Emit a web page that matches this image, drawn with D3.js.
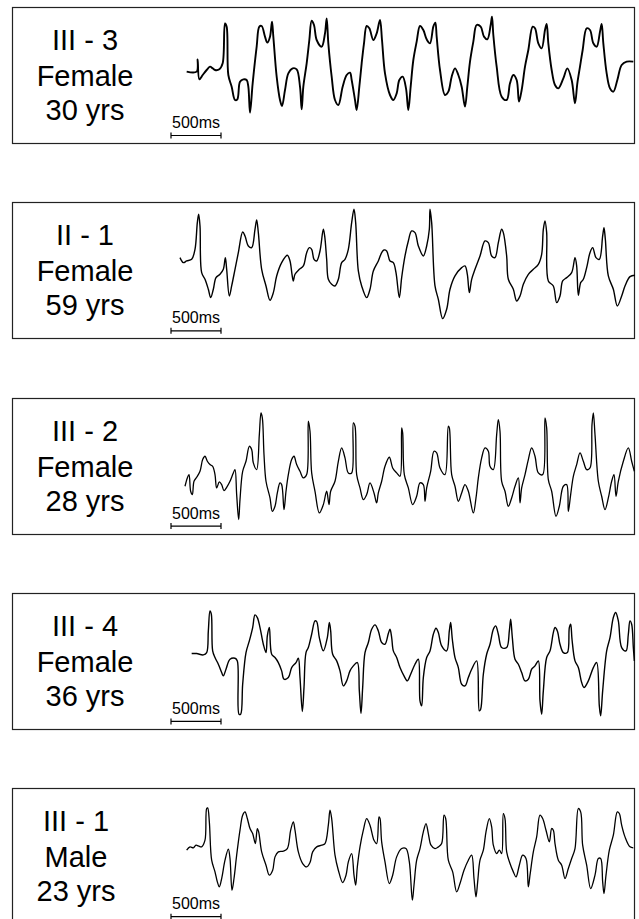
<!DOCTYPE html>
<html>
<head>
<meta charset="utf-8">
<script src="https://cdn.jsdelivr.net/npm/d3@7"></script>
<style>
  body { margin: 0; background: #fff; }
  text { font-family: "Liberation Sans", Arial, sans-serif; fill: #000; }
</style>
</head>
<body>
<div id="chart"></div>
<script>
// subject labels
const subjects = ["III - 3", "II - 1", "III - 2", "III - 4", "III - 1"];
const sexes = ["Female", "Female", "Female", "Female", "Male"];
const ages = ["30 yrs", "59 yrs", "28 yrs", "36 yrs", "23 yrs"];

// recordings: [sample index @ 300 Hz, amplitude (10 uV units)]
const sampleRate = 300;
const scaleBarMs = 500;
const scaleBarLabel = "500ms";

const ecgIII3 = [[80,1],[110,1],[113,38],[118,-22],[128,-9],[140,6],[150,16],[158,11],[165,6],[178,8],[188,26],[195,146],[200,136],[205,-9],[215,-44],[225,-84],[232,-82],[240,-29],[250,-22],[260,-24],[265,-44],[270,-122],[278,-34],[290,76],[298,136],[305,138],[315,106],[322,88],[330,106],[336,151],[340,106],[350,-14],[360,-84],[366,-102],[375,-54],[385,-4],[398,11],[410,8],[420,-44],[425,-112],[430,-44],[440,26],[448,96],[455,154],[462,141],[470,96],[485,76],[495,116],[500,161],[505,86],[515,-14],[525,-84],[535,-99],[548,-44],[560,-9],[570,-2],[575,-24],[585,-84],[590,-114],[598,-44],[605,26],[612,86],[620,138],[628,131],[640,96],[650,116],[660,156],[666,96],[675,-4],[690,-69],[700,-84],[710,-64],[718,-24],[728,-14],[738,-49],[745,-114],[752,-44],[760,36],[770,91],[780,138],[790,126],[800,98],[810,86],[820,136],[826,148],[830,106],[840,6],[855,-69],[865,-59],[875,-14],[885,11],[895,-9],[905,-44],[915,-104],[922,-44],[930,31],[940,91],[950,141],[962,136],[972,106],[982,98],[992,141],[996,166],[1000,111],[1010,16],[1025,-74],[1040,-84],[1050,-34],[1060,-9],[1070,-24],[1077,-89],[1085,-54],[1095,16],[1105,66],[1118,136],[1125,131],[1135,86],[1145,71],[1155,126],[1160,144],[1165,86],[1175,6],[1185,-39],[1195,-49],[1210,-19],[1222,11],[1235,-24],[1245,-94],[1252,-34],[1260,16],[1268,66],[1280,131],[1290,126],[1300,86],[1310,76],[1320,121],[1325,144],[1330,86],[1340,-4],[1350,-49],[1360,-59],[1372,-24],[1385,21],[1400,31],[1420,31]];

const ecgII1 = [[60,29],[70,14],[80,19],[95,24],[105,54],[112,134],[116,159],[120,124],[125,-16],[135,-36],[145,-66],[152,-91],[160,-66],[168,-31],[180,-21],[190,-6],[196,29],[200,-6],[208,-86],[215,-56],[225,-6],[235,44],[248,106],[255,94],[265,64],[275,59],[285,114],[290,142],[295,104],[305,-6],[318,-56],[330,-99],[340,-76],[350,-26],[365,14],[382,36],[390,19],[396,-21],[400,-41],[405,-21],[418,-6],[430,4],[440,44],[448,59],[455,54],[462,24],[470,19],[480,49],[490,114],[494,94],[500,24],[505,-36],[515,-51],[525,-56],[535,-36],[545,14],[555,24],[565,54],[575,134],[582,174],[587,134],[595,-11],[605,-56],[620,-91],[630,-66],[640,-11],[655,19],[665,44],[672,52],[680,49],[690,19],[700,14],[708,-16],[718,-91],[725,-31],[735,34],[745,79],[755,109],[765,104],[775,64],[790,34],[800,64],[808,114],[810,174],[815,134],[825,-56],[835,-96],[848,-154],[860,-126],[870,-66],[885,-26],[905,-1],[915,4],[922,-21],[928,-76],[935,-36],[945,-6],[960,34],[975,79],[985,74],[995,34],[1005,29],[1015,74],[1025,114],[1030,104],[1040,34],[1045,-36],[1060,-66],[1070,-101],[1080,-86],[1090,-51],[1105,-21],[1120,-6],[1135,9],[1145,39],[1150,114],[1155,139],[1160,104],[1165,-41],[1180,-56],[1190,-106],[1200,-86],[1208,-41],[1220,-31],[1235,-16],[1245,29],[1250,4],[1255,-84],[1262,-46],[1270,-36],[1280,-1],[1290,44],[1298,59],[1308,29],[1318,24],[1328,94],[1332,119],[1336,84],[1345,-26],[1360,-66],[1372,-116],[1385,-86],[1395,-56],[1410,-28],[1425,-24]];

const ecgIII2 = [[75,-71],[82,-46],[87,-36],[92,-86],[97,-96],[102,-56],[110,-44],[120,-26],[128,9],[135,19],[142,4],[150,-6],[158,-11],[165,-36],[170,-76],[178,-58],[185,-66],[192,-84],[200,-74],[210,-56],[220,-31],[225,-21],[230,-96],[236,-171],[240,-111],[248,-26],[258,4],[268,49],[275,39],[280,-1],[290,-21],[298,84],[303,149],[307,134],[312,24],[318,-56],[330,-106],[337,-146],[345,-131],[352,-91],[360,-61],[365,-66],[372,-141],[378,-86],[385,-36],[395,9],[402,19],[410,-6],[420,-26],[430,-46],[440,-36],[445,124],[450,94],[455,-31],[465,-86],[478,-151],[490,-126],[500,-86],[507,-126],[512,-86],[525,-56],[535,4],[545,44],[555,14],[565,-31],[575,-31],[580,119],[585,109],[590,-36],[600,-76],[610,-111],[620,-96],[630,-61],[642,-91],[650,-121],[655,-91],[665,-56],[675,-11],[688,16],[698,-16],[710,-31],[720,-41],[725,104],[728,89],[733,-36],[745,-76],[758,-126],[770,-101],[780,-61],[790,-66],[795,-116],[800,-76],[812,-26],[822,34],[830,29],[840,-16],[855,-36],[865,109],[868,104],[875,-36],[885,-71],[895,-116],[905,-91],[915,-66],[925,-86],[940,-151],[948,-106],[955,-46],[965,14],[975,44],[985,34],[990,-11],[1000,-21],[1010,84],[1015,129],[1020,94],[1025,-56],[1035,-86],[1045,-131],[1055,-106],[1065,-71],[1075,-46],[1080,-121],[1085,-76],[1095,-36],[1105,9],[1115,44],[1125,19],[1135,-31],[1148,-36],[1155,134],[1160,104],[1165,-51],[1175,-86],[1188,-161],[1198,-131],[1210,-71],[1220,-66],[1225,-146],[1232,-96],[1240,-41],[1250,-6],[1260,29],[1270,4],[1280,-21],[1290,-16],[1296,114],[1300,149],[1305,84],[1315,-56],[1325,-101],[1335,-141],[1345,-106],[1355,-56],[1362,-36],[1368,-101],[1375,-56],[1390,4],[1405,44],[1415,4],[1423,-26]];

const ecgIII4 = [[95,13],[110,13],[130,9],[140,16],[145,81],[150,141],[154,131],[158,21],[165,1],[175,-19],[185,-44],[190,-54],[198,-34],[210,-4],[225,-1],[232,-9],[237,-169],[242,-169],[248,-79],[258,16],[268,51],[278,91],[285,129],[292,121],[300,91],[310,41],[318,16],[322,66],[328,91],[335,11],[345,1],[355,-14],[365,-39],[372,-64],[385,-59],[395,-29],[408,-14],[415,-1],[420,-59],[427,-161],[432,-89],[438,16],[445,31],[455,71],[465,111],[470,109],[478,61],[490,21],[502,61],[508,106],[512,81],[518,11],[530,-9],[540,-39],[550,-84],[560,-69],[570,-39],[580,-24],[592,-14],[598,-99],[603,-167],[608,-89],[615,16],[625,46],[635,86],[645,99],[655,81],[665,46],[675,41],[685,73],[690,86],[695,61],[700,21],[710,1],[720,-29],[732,-54],[742,-69],[752,-49],[765,-19],[775,-4],[780,-129],[785,-144],[790,-59],[800,1],[810,21],[820,71],[828,89],[835,76],[845,36],[860,21],[868,81],[872,106],[877,56],[885,1],[895,-29],[905,-79],[915,-84],[925,-59],[935,-34],[950,-9],[958,-159],[962,-154],[970,-49],[980,11],[990,41],[1000,86],[1007,96],[1015,71],[1025,31],[1040,31],[1048,81],[1052,116],[1057,61],[1065,-4],[1075,-19],[1085,-44],[1095,-69],[1105,-64],[1115,-34],[1125,-24],[1135,-9],[1140,-129],[1145,-169],[1150,-99],[1160,1],[1170,21],[1180,76],[1185,91],[1192,81],[1200,41],[1210,16],[1222,16],[1228,91],[1232,101],[1236,56],[1245,-9],[1255,-29],[1265,-74],[1272,-89],[1285,-69],[1300,-29],[1310,-14],[1318,-144],[1322,-174],[1328,-99],[1340,21],[1350,61],[1360,121],[1367,136],[1375,111],[1385,31],[1398,21],[1405,71],[1410,111],[1415,101],[1420,31],[1423,-9]];

const ecgIII1 = [[80,9],[90,19],[100,16],[108,24],[115,22],[125,19],[135,39],[140,134],[143,136],[148,94],[155,-21],[165,-56],[172,-86],[178,-101],[185,-76],[195,-21],[205,12],[210,-16],[216,-111],[222,-76],[230,-6],[240,69],[248,114],[255,124],[262,104],[270,74],[278,59],[286,29],[292,74],[296,64],[305,4],[318,-36],[328,-66],[338,-51],[345,-11],[355,4],[370,6],[382,14],[392,69],[400,94],[405,69],[415,4],[428,-31],[440,-41],[450,-28],[458,4],[470,19],[485,24],[495,29],[505,84],[510,129],[515,104],[525,-6],[535,-51],[548,-88],[558,-66],[565,-26],[575,-1],[582,-66],[587,-96],[592,-41],[600,19],[610,69],[620,104],[630,84],[642,39],[650,29],[657,109],[660,104],[665,34],[675,-26],[688,-91],[698,-66],[710,-11],[725,14],[738,14],[748,-26],[757,-141],[762,-96],[770,-21],[780,14],[790,64],[798,89],[805,59],[813,24],[825,14],[835,19],[845,29],[852,114],[857,104],[865,-21],[878,-56],[890,-116],[900,-91],[912,-51],[925,-21],[935,-6],[942,-76],[948,-131],[953,-86],[960,-21],[970,9],[978,64],[988,104],[995,79],[1000,24],[1010,-1],[1018,9],[1025,-1],[1030,119],[1035,104],[1040,4],[1050,-31],[1060,-56],[1068,-71],[1078,-36],[1088,-6],[1098,-16],[1105,-101],[1110,-66],[1120,4],[1130,49],[1140,114],[1148,104],[1158,69],[1168,34],[1175,74],[1180,69],[1185,29],[1195,-21],[1205,-36],[1215,-76],[1225,-46],[1235,-16],[1245,14],[1255,134],[1262,124],[1268,24],[1280,-36],[1292,-106],[1305,-66],[1315,-16],[1322,-16],[1328,-86],[1332,-121],[1338,-66],[1348,9],[1360,54],[1372,124],[1378,119],[1385,84],[1395,49],[1410,19],[1420,16]];

const recordings = [ecgIII3, ecgII1, ecgIII2, ecgIII4, ecgIII1];

// ---- layout ----
const width = 639, height = 919;
const boxLeft = 12, boxRight = 634, boxHeight = 136;
const panelStep = 195.3, firstTop = 7;
const labelX = [85, 85, 85, 85, 76];
const traceWidth = [1.9, 1.4, 1.3, 1.4, 1.3];

const svg = d3.select('#chart').append('svg')
    .attr('width', width)
    .attr('height', height);

// time axis shared by all strips: ms -> px (500 ms = 50 px)
const x = d3.scaleLinear()
    .domain([0, 1437 * 1000 / sampleRate])
    .range([160, 639]);

const line = d3.line()
    .curve(d3.curveCatmullRom.alpha(0.5));

recordings.forEach((rec, i) => {
    const top = firstTop + i * panelStep;
    const g = svg.append('g').attr('class', 'strip');

    // frame
    g.append('rect')
        .attr('x', boxLeft + 0.5)
        .attr('y', Math.round(top) + 0.5)
        .attr('width', boxRight - boxLeft)
        .attr('height', boxHeight)
        .attr('fill', 'none')
        .attr('stroke', '#222')
        .attr('stroke-width', 1.2);

    // subject label
    const lbl = g.append('text')
        .attr('text-anchor', 'middle')
        .attr('font-size', 29);
    [subjects[i], sexes[i], ages[i]].forEach((s, k) => {
        lbl.append('tspan')
            .attr('x', labelX[i])
            .attr('y', top + [43, 79, 113][k])
            .text(s);
    });

    // amplitude scale, baseline 65 px below frame top
    const base = top + 65;
    const y = d3.scaleLinear().domain([-150, 150]).range([base + 50, base - 50]);

    line.x(d => x(d[0] * 1000 / sampleRate)).y(d => y(d[1]));

    g.append('path')
        .datum(rec)
        .attr('d', line)
        .attr('fill', 'none')
        .attr('stroke', '#000')
        .attr('stroke-width', traceWidth[i])
        .attr('stroke-linejoin', 'round');

    // 500 ms calibration bar
    const x0 = x(110), x1 = x(110 + scaleBarMs);
    const by = top + 128.5;
    g.append('path')
        .attr('d', `M${x0},${by - 3}V${by + 3}M${x0},${by}H${x1}M${x1},${by - 3}V${by + 3}`)
        .attr('stroke', '#000')
        .attr('stroke-width', 1.2)
        .attr('fill', 'none');
    g.append('text')
        .attr('x', x0 + 1)
        .attr('y', top + 121)
        .attr('font-size', 16)
        .text(scaleBarLabel);
});
</script>
</body>
</html>
